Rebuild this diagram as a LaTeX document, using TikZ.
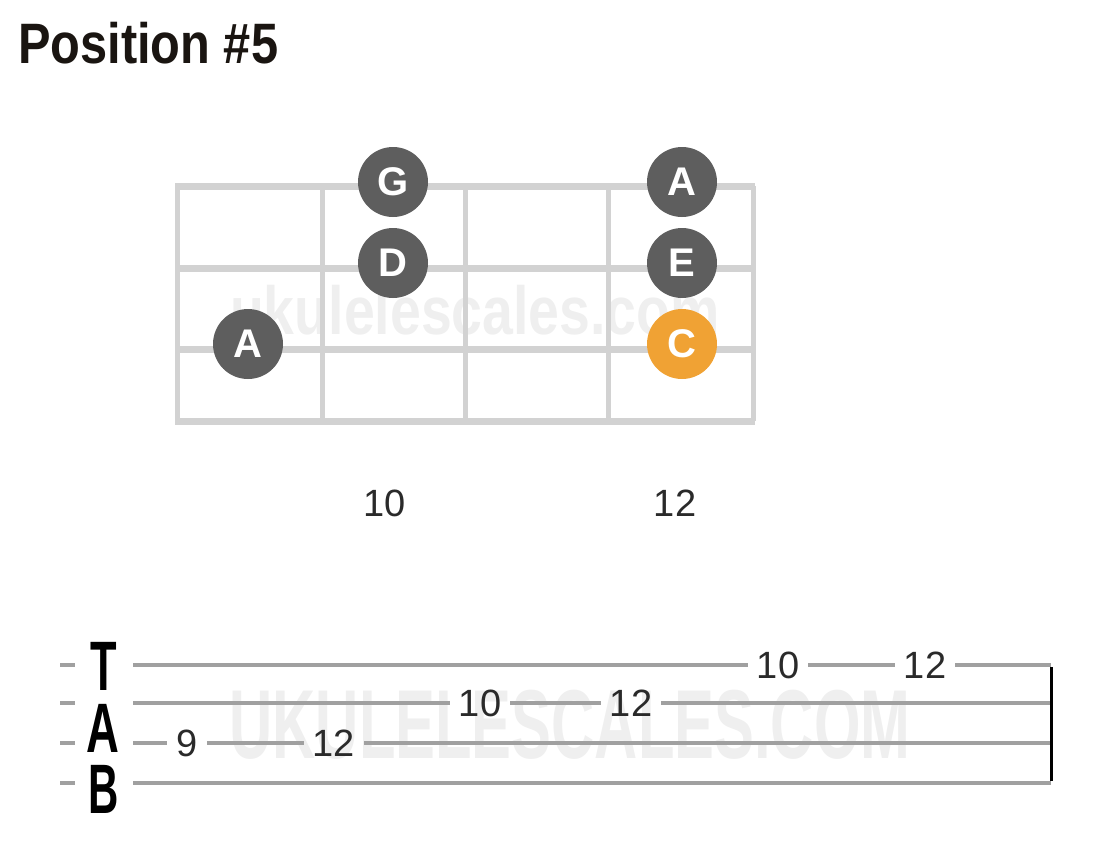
\documentclass[tikz,border=0pt]{standalone}
\usepackage{fontspec}
\setmainfont{Liberation Sans}
\usepackage{graphicx}
\definecolor{fretgray}{HTML}{D2D2D2}
\definecolor{dotgray}{HTML}{5E5E5E}
\definecolor{rootorange}{HTML}{F0A234}
\definecolor{tabgray}{HTML}{A0A0A0}
\definecolor{wmgray}{HTML}{EFEFEF}
\definecolor{titleblack}{HTML}{1A1511}
\definecolor{numblack}{HTML}{2A2A2A}
\begin{document}
\begin{tikzpicture}[x=1pt,y=-1pt,
  fretline/.style={draw=fretgray,line width=7pt},
  fretvline/.style={draw=fretgray,line width=5pt},
  notedot/.style={circle,fill=dotgray,minimum size=70pt,inner sep=0pt,text=white,font=\fontsize{40}{40}\selectfont\bfseries},
  rootdot/.style={notedot,fill=rootorange},
  fretnum/.style={font=\fontsize{38}{38}\selectfont,text=numblack},
  tabnum/.style={font=\fontsize{38}{38}\selectfont,text=numblack,inner xsep=9pt,inner ysep=0pt},
  tabline/.style={draw=tabgray,line width=4pt},
  tabletter/.style={font=\fontsize{70}{70}\selectfont\bfseries,text=black,inner sep=0pt},
]
\useasboundingbox (0,0) rectangle (1110,844);

% title
\node[anchor=base west,inner sep=0pt,text=titleblack,font=\fontsize{57}{57}\selectfont\bfseries] (title) at (18,63) {\scalebox{0.855}[1]{Position \#5}};

% watermarks
\node[text=wmgray,font=\fontsize{68}{68}\selectfont\bfseries,inner sep=0pt] (wmA) at (475,310) {\scalebox{0.815}[1]{ukulelescales.com}};
\node[text=wmgray,font=\fontsize{98}{98}\selectfont\bfseries,inner sep=0pt] (wmB) at (570,725) {\scalebox{0.61}[1]{UKULELESCALES.COM}};

% fretboard
\foreach \y in {186,268,349,421} \draw[fretline] (175,\y) -- (755,\y);
\foreach \x in {177,322,465,608,753} \draw[fretvline] (\x,186) -- (\x,421);

% notes
\node[notedot] (g) at (393,182) {G};
\node[notedot] (d) at (393,263) {D};
\node[notedot] (a1) at (248,344) {A};
\node[notedot] (a2) at (682,182) {A};
\node[notedot] (e) at (682,263) {E};
\node[rootdot] (c) at (682,344) {C};

% fret numbers
\node[fretnum] (f10) at (385,503) {10};
\node[fretnum] (f12) at (675,503) {12};

% tab
\node[tabletter] (tT) at (104,666) {\scalebox{0.62}[1]{T}};
\node[tabletter] (tA) at (103,728) {\scalebox{0.65}[1]{A}};
\node[tabletter] (tB) at (104,789) {\scalebox{0.6}[1]{B}};

\foreach \y [count=\i] in {665,703,743,783} {
  \coordinate (s\i) at (133,\y);
  \coordinate (e\i) at (1051,\y);
  \coordinate (da\i) at (60,\y);
  \coordinate (db\i) at (75,\y);
  \draw[tabline] (da\i) -- (db\i);
}
\node[tabnum] (n1a) at (778,665) {10};
\node[tabnum] (n1b) at (925,665) {12};
\node[tabnum] (n2a) at (480,703) {10};
\node[tabnum] (n2b) at (631,703) {12};
\node[tabnum] (n3a) at (187,743) {9};
\node[tabnum] (n3b) at (334,743) {12};

\draw[tabline] (s1) -- (n1a) -- (n1b) -- (e1);
\draw[tabline] (s2) -- (n2a) -- (n2b) -- (e2);
\draw[tabline] (s3) -- (n3a) -- (n3b) -- (e3);
\draw[tabline] (s4) -- (e4);
\draw[line width=3pt,black] ([yshift=-2pt]e1) -- ([yshift=2pt]e4);
\end{tikzpicture}
\end{document}
